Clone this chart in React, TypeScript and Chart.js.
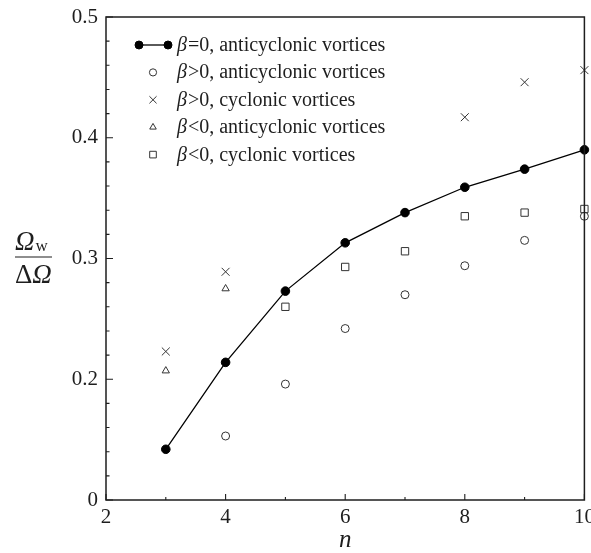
import { useEffect, useRef } from "react";
import { Chart, registerables } from "chart.js";

Chart.register(...registerables);

// Vortex counts n and the normalised rotation rate of each vortex family
const nZeroAnti = [3, 4, 5, 6, 7, 8, 9, 10];
const omegaZeroAnti = [0.142, 0.214, 0.273, 0.313, 0.338, 0.359, 0.374, 0.39];

const nPosAnti = [4, 5, 6, 7, 8, 9, 10];
const omegaPosAnti = [0.153, 0.196, 0.242, 0.27, 0.294, 0.315, 0.335];

const nPosCyc = [3, 4, 8, 9, 10];
const omegaPosCyc = [0.223, 0.289, 0.417, 0.446, 0.456];

const nNegAnti = [3, 4];
const omegaNegAnti = [0.207, 0.275];

const nNegCyc = [5, 6, 7, 8, 9, 10];
const omegaNegCyc = [0.26, 0.293, 0.306, 0.335, 0.338, 0.341];

// Axis ticks (the lowest y tick is printed as "0")
const yMajorTicks = [0.1, 0.2, 0.3, 0.4, 0.5];
const yMajorLabels = ["0", "0.2", "0.3", "0.4", "0.5"];
const xMajorTicks = [2, 4, 6, 8, 10];
const xMajorLabels = ["2", "4", "6", "8", "10"];

// Legend text, each preceded by an italic beta
const legendSuffixes = [
  "=0, anticyclonic vortices",
  ">0, anticyclonic vortices",
  ">0, cyclonic vortices",
  "<0, anticyclonic vortices",
  "<0, cyclonic vortices",
];

const SERIF = '"Liberation Serif", "Times New Roman", serif';
const INK = "#1e1e1e";

function toPoints(xs: number[], ys: number[]) {
  return xs.map((x, i) => ({ x, y: ys[i] }));
}

function isMajor(list: number[], v: number) {
  return list.findIndex((m) => Math.abs(m - v) < 1e-6);
}

function drawMarker(
  ctx: CanvasRenderingContext2D,
  style: string,
  x: number,
  y: number,
  r: number,
  filled: boolean
) {
  ctx.beginPath();
  if (style === "circle") {
    ctx.arc(x, y, r, 0, Math.PI * 2);
  } else if (style === "crossRot") {
    const d = r * Math.SQRT1_2;
    ctx.moveTo(x - d, y - d);
    ctx.lineTo(x + d, y + d);
    ctx.moveTo(x + d, y - d);
    ctx.lineTo(x - d, y + d);
  } else if (style === "triangle") {
    for (let k = 0; k < 3; k++) {
      const a = (k * 2 * Math.PI) / 3;
      const px = x + Math.sin(a) * r;
      const py = y - Math.cos(a) * r;
      if (k === 0) ctx.moveTo(px, py);
      else ctx.lineTo(px, py);
    }
    ctx.closePath();
  } else if (style === "rect") {
    const s = r * Math.SQRT1_2;
    ctx.rect(x - s, y - s, 2 * s, 2 * s);
  }
  if (filled) ctx.fill();
  ctx.stroke();
}

const decorPlugin = {
  id: "decor",
  afterDraw(chart: any) {
    const { ctx, chartArea: a, scales } = chart;
    const xs = scales.x;
    const ys = scales.y;
    ctx.save();

    // frame
    ctx.strokeStyle = INK;
    ctx.lineWidth = 1.5;
    ctx.strokeRect(a.left, a.top, a.right - a.left, a.bottom - a.top);

    // inward tick marks
    ctx.lineWidth = 1.1;
    ctx.beginPath();
    ys.ticks.forEach((t: any) => {
      const py = ys.getPixelForValue(t.value);
      const len = isMajor(yMajorTicks, t.value) >= 0 ? 7 : 3.5;
      ctx.moveTo(a.left, py);
      ctx.lineTo(a.left + len, py);
    });
    xs.ticks.forEach((t: any) => {
      const px = xs.getPixelForValue(t.value);
      const len = isMajor(xMajorTicks, t.value) >= 0 ? 6 : 3;
      ctx.moveTo(px, a.bottom);
      ctx.lineTo(px, a.bottom - len);
    });
    ctx.stroke();

    // legend
    const metas = chart.data.datasets;
    const rowY0 = 45;
    const rowGap = 27.4;
    metas.forEach((ds: any, i: number) => {
      const y = rowY0 + i * rowGap;
      ctx.strokeStyle = ds.borderColor;
      ctx.fillStyle = ds.pointBackgroundColor;
      ctx.lineWidth = ds.pointBorderWidth;
      if (ds.showLine) {
        ctx.lineWidth = ds.borderWidth;
        ctx.beginPath();
        ctx.moveTo(139, y);
        ctx.lineTo(168, y);
        ctx.stroke();
        ctx.lineWidth = ds.pointBorderWidth;
        drawMarker(ctx, ds.pointStyle, 139, y, 4, true);
        drawMarker(ctx, ds.pointStyle, 168, y, 4, true);
      } else {
        drawMarker(ctx, ds.pointStyle, 153, y, ds.pointRadius * 0.9, false);
      }
      ctx.fillStyle = INK;
      ctx.textBaseline = "alphabetic";
      ctx.textAlign = "left";
      ctx.font = `italic 20px ${SERIF}`;
      ctx.fillText("\u03b2", 177, y + 6);
      const bw = ctx.measureText("\u03b2").width;
      ctx.font = `20px ${SERIF}`;
      ctx.fillText(legendSuffixes[i], 177 + bw + 1, y + 6);
    });

    // y-axis title: fraction Ω_w / ΔΩ
    ctx.fillStyle = INK;
    ctx.textAlign = "left";
    ctx.font = `italic 27px ${SERIF}`;
    ctx.fillText("\u03a9", 15, 250);
    const ow = ctx.measureText("\u03a9").width;
    ctx.font = `17px ${SERIF}`;
    ctx.fillText("w", 15 + ow + 1, 251);
    ctx.lineWidth = 1.2;
    ctx.strokeStyle = INK;
    ctx.beginPath();
    ctx.moveTo(15, 257);
    ctx.lineTo(52, 257);
    ctx.stroke();
    ctx.font = `27px ${SERIF}`;
    ctx.fillText("\u0394", 15, 283);
    const dw = ctx.measureText("\u0394").width;
    ctx.font = `italic 27px ${SERIF}`;
    ctx.fillText("\u03a9", 15 + dw, 283);

    // x-axis title
    ctx.textAlign = "center";
    ctx.font = `italic 25px ${SERIF}`;
    ctx.fillText("n", (a.left + a.right) / 2, 547);

    ctx.restore();
  },
};

export default function App() {
  const canvasRef = useRef<HTMLCanvasElement | null>(null);

  useEffect(() => {
    const canvas = canvasRef.current;
    if (!canvas) return;

    const openMarker = {
      backgroundColor: "rgba(0,0,0,0)",
      pointBackgroundColor: "rgba(0,0,0,0)",
      borderColor: "#333",
      pointBorderColor: "#333",
      pointBorderWidth: 1,
      showLine: false,
      clip: false as any,
    };

    const chart = new Chart(canvas, {
      type: "scatter",
      data: {
        datasets: [
          {
            label: "beta=0, anticyclonic vortices",
            data: toPoints(nZeroAnti, omegaZeroAnti),
            showLine: true,
            borderColor: "#000",
            borderWidth: 1.3,
            backgroundColor: "#000",
            pointBackgroundColor: "#000",
            pointBorderColor: "#000",
            pointBorderWidth: 1,
            pointStyle: "circle",
            pointRadius: 4.3,
            clip: false as any,
          } as any,
          {
            label: "beta>0, anticyclonic vortices",
            data: toPoints(nPosAnti, omegaPosAnti),
            pointStyle: "circle",
            pointRadius: 4,
            ...openMarker,
          },
          {
            label: "beta>0, cyclonic vortices",
            data: toPoints(nPosCyc, omegaPosCyc),
            pointStyle: "crossRot",
            pointRadius: 5.6,
            ...openMarker,
          },
          {
            label: "beta<0, anticyclonic vortices",
            data: toPoints(nNegAnti, omegaNegAnti),
            pointStyle: "triangle",
            pointRadius: 4.2,
            ...openMarker,
          },
          {
            label: "beta<0, cyclonic vortices",
            data: toPoints(nNegCyc, omegaNegCyc),
            pointStyle: "rect",
            pointRadius: 5.2,
            ...openMarker,
          },
        ],
      },
      options: {
        responsive: false,
        animation: false,
        devicePixelRatio: 1,
        layout: { padding: { left: 0, top: 17, right: 6, bottom: 0 } },
        plugins: {
          legend: { display: false },
          tooltip: { enabled: false },
          title: { display: false },
        },
        scales: {
          x: {
            type: "linear",
            min: 2,
            max: 10,
            grid: { display: false, drawTicks: false },
            border: { display: false },
            ticks: {
              stepSize: 1,
              autoSkip: false,
              maxRotation: 0,
              padding: 5,
              color: INK,
              font: { family: SERIF, size: 21 },
              callback: (v: any) => {
                const k = isMajor(xMajorTicks, Number(v));
                return k >= 0 ? xMajorLabels[k] : "";
              },
            },
            afterFit: (s: any) => {
              s.height = 53;
              s.paddingLeft = 0;
              s.paddingRight = 0;
            },
          },
          y: {
            type: "linear",
            min: 0.1,
            max: 0.5,
            grid: { display: false, drawTicks: false },
            border: { display: false },
            ticks: {
              stepSize: 0.02,
              autoSkip: false,
              padding: 8,
              color: INK,
              font: { family: SERIF, size: 21 },
              callback: (v: any) => {
                const k = isMajor(yMajorTicks, Number(v));
                return k >= 0 ? yMajorLabels[k] : "";
              },
            },
            afterFit: (s: any) => {
              s.width = 106;
              s.paddingTop = 0;
              s.paddingBottom = 0;
            },
          },
        },
      },
      plugins: [decorPlugin],
    });

    return () => chart.destroy();
  }, []);

  return (
    <div
      style={{
        position: "fixed",
        left: 0,
        top: 0,
        width: 591,
        height: 553,
        background: "#fff",
      }}
    >
      <canvas ref={canvasRef} width={591} height={553} />
    </div>
  );
}
